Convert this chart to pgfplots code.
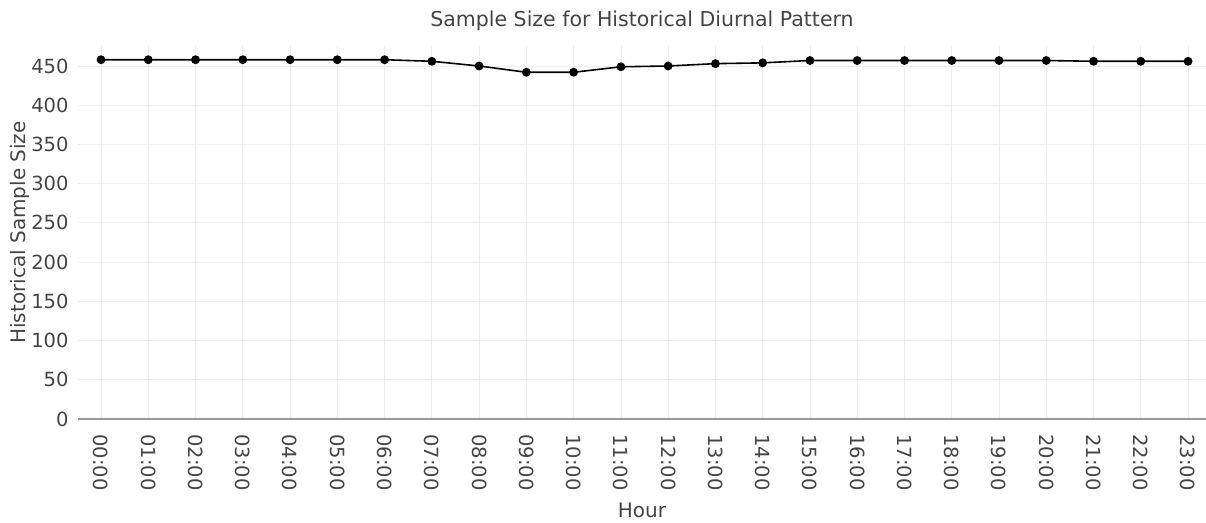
\documentclass[border=0pt]{standalone}
\usepackage{pgfplots}
\pgfplotsset{compat=1.18}
\usepackage{fontspec}
\setmainfont{DejaVu Sans}
\definecolor{txt}{HTML}{444444}
\definecolor{grd}{HTML}{EEEEEE}
\definecolor{axl}{HTML}{999999}
\begin{document}
\begin{tikzpicture}
\useasboundingbox (0,0) rectangle (1206bp,523bp);
\begin{axis}[
  at={(78bp,104bp)}, anchor=south west,
  scale only axis, width=1128bp, height=373bp,
  xmin=-0.487, xmax=23.38, ymin=0, ymax=475.5,
  axis x line=bottom, axis y line=left,
  x axis line style={axl, line width=1.2pt, -},
  y axis line style={draw=none, -},
  xtick={0,...,23},
  xticklabels={00:00,01:00,02:00,03:00,04:00,05:00,06:00,07:00,08:00,09:00,10:00,11:00,12:00,13:00,14:00,15:00,16:00,17:00,18:00,19:00,20:00,21:00,22:00,23:00},
  ytick={0,50,...,450},
  x tick label style={rotate=-90, anchor=west, font=\fontsize{19.5bp}{22bp}\selectfont, text=txt},
  xticklabel shift={12bp},
  y tick label style={font=\fontsize{19.5bp}{22bp}\selectfont, text=txt},
  yticklabel shift={6bp},
  /pgf/number format/assume math mode=true,
  major tick length=0pt,
  grid=major, grid style={grd, line width=0.8pt},
  xlabel={Hour}, ylabel={Historical Sample Size},
  label style={font=\fontsize{20bp}{24bp}\selectfont, text=txt},
  xlabel style={at={(0.5,0)}, anchor=south, yshift=-104bp+2bp},
  ylabel style={at={(-0.0514,0.5)}, anchor=center},
  title={Sample Size for Historical Diurnal Pattern},
  title style={font=\fontsize{20.5bp}{24bp}\selectfont, text=txt, at={(0.5,1)}, anchor=base, yshift=14bp},
  clip=false,
]
\addplot[black, line width=1.6pt, mark=*, mark size=3.6pt] coordinates {
(0,458) (1,458) (2,458) (3,458) (4,458) (5,458) (6,458) (7,456) (8,450) (9,442) (10,442) (11,449) (12,450) (13,453) (14,454) (15,457) (16,457) (17,457) (18,457) (19,457) (20,457) (21,456) (22,456) (23,456)
};
\end{axis}
\end{tikzpicture}
\end{document}
